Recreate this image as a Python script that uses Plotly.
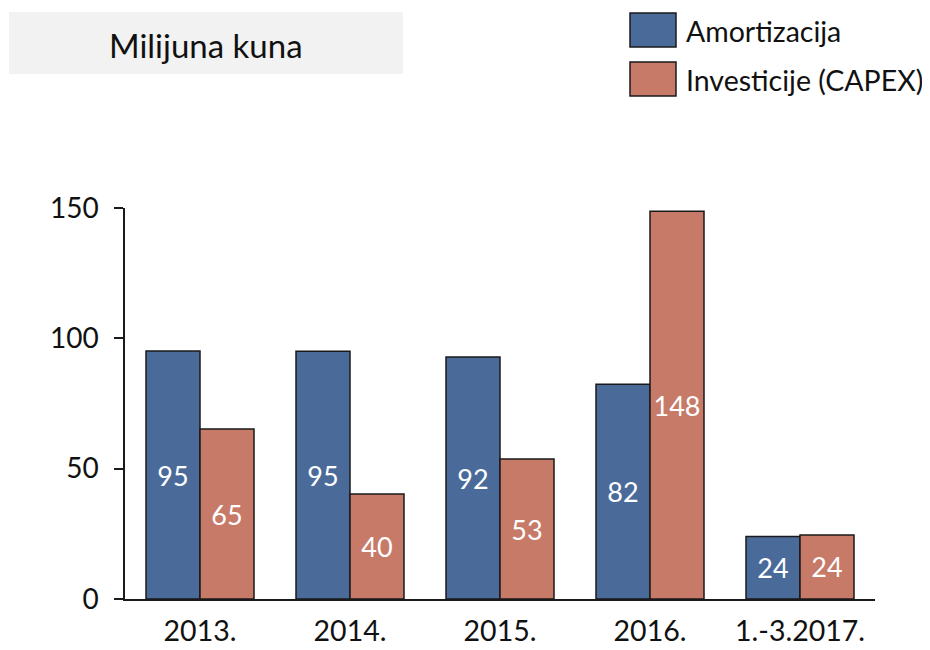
import plotly.graph_objects as go

categories = ["2013.", "2014.", "2015.", "2016.", "1.-3.2017."]
amortizacija = [95.1, 95.0, 92.8, 82.4, 24.0]
investicije = [65.2, 40.3, 53.7, 148.8, 24.6]
series_names = ["Amortizacija", "Investicije (CAPEX)"]
y_ticks = [0, 50, 100, 150]

FONT = "Lato"
BLUE = "#4A6B9A"
RED = "#C77A68"
EDGE = "#1a1a1a"
TXT = "#111111"

OFF = 8  # page body offset
W, H = 930 - OFF, 650 - OFF
L, R, T, B = 125 - OFF, 875 - OFF, 208 - OFF, 599 - OFF


def px(x):
    return (x - OFF - L) / (R - L)


def py(y):
    return (B - (y - OFF)) / (B - T)


fig = go.Figure()
for name, vals, col in [(series_names[0], amortizacija, BLUE), (series_names[1], investicije, RED)]:
    fig.add_trace(go.Bar(
        x=categories, y=vals, name=name,
        marker=dict(color=col, line=dict(color=EDGE, width=1.5)),
        text=[str(int(v)) for v in vals],
        textposition="inside", insidetextanchor="middle",
        textfont=dict(family=FONT, size=27, color="white"),
        textangle=0, constraintext="none",
        showlegend=False,
    ))

shapes = [
    dict(type="rect", xref="paper", yref="paper", x0=px(9), x1=px(403), y0=py(74), y1=py(12),
         fillcolor="#F2F2F2", line=dict(width=0), layer="below"),
    dict(type="rect", xref="paper", yref="paper", x0=px(630), x1=px(676), y0=py(47), y1=py(13),
         fillcolor=BLUE, line=dict(color=EDGE, width=1.5)),
    dict(type="rect", xref="paper", yref="paper", x0=px(630), x1=px(676), y0=py(96), y1=py(62),
         fillcolor=RED, line=dict(color=EDGE, width=1.5)),
]
annotations = [
    dict(text="Milijuna kuna", xref="paper", yref="paper", x=px(206), y=py(45),
         xanchor="center", yanchor="middle", showarrow=False,
         font=dict(family=FONT, size=33, color=TXT)),
    dict(text=series_names[0], xref="paper", yref="paper", x=px(684), y=py(31),
         xanchor="left", yanchor="middle", showarrow=False,
         font=dict(family=FONT, size=28.5, color=TXT)),
    dict(text=series_names[1], xref="paper", yref="paper", x=px(684), y=py(80),
         xanchor="left", yanchor="middle", showarrow=False,
         font=dict(family=FONT, size=28.5, color=TXT)),
]

fig.update_layout(
    width=W, height=H, autosize=False,
    margin=dict(l=L, r=W - R, t=T, b=H - B, pad=0, autoexpand=False),
    paper_bgcolor="white", plot_bgcolor="white",
    barmode="group", bargap=0.28, bargroupgap=0,
    shapes=shapes, annotations=annotations,
    font=dict(family=FONT, size=28, color=TXT),
    showlegend=False,
)
fig.update_xaxes(
    showline=True, linecolor=EDGE, linewidth=2, ticks="", showgrid=False, automargin=False,
    tickfont=dict(family=FONT, size=28.5, color=TXT), ticklabelstandoff=6,
)
fig.update_yaxes(
    range=[0, 150], tickvals=y_ticks, showline=True, linecolor=EDGE, linewidth=1.5,
    ticks="outside", ticklen=9, tickcolor=EDGE, tickwidth=1.5, showgrid=False, automargin=False,
    zeroline=False, tickfont=dict(family=FONT, size=28, color=TXT), ticklabelstandoff=10,
)

fig.write_html("out.html")
